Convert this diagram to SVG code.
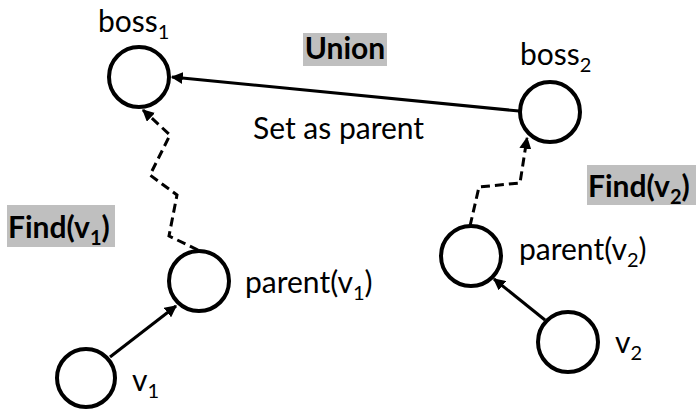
<svg xmlns="http://www.w3.org/2000/svg" width="696" height="410" viewBox="0 0 696 410">
<style>
.n{fill:#fff;stroke:#000;stroke-width:4}
.t{font-family:Lato,"Open Sans","Liberation Sans",sans-serif;font-size:30px;fill:#000}
.b{font-family:Lato,"Open Sans","Liberation Sans",sans-serif;font-size:30px;font-weight:bold;fill:#000}
.s{font-size:20px}
.e{fill:none;stroke:#000;stroke-width:3}
.d{fill:none;stroke:#000;stroke-width:3;stroke-dasharray:9 5}
.box{fill:#bfbfbf}
</style>
<defs>
<marker id="ah" viewBox="0 0 10 10" refX="9" refY="5" markerWidth="4" markerHeight="4" markerUnits="strokeWidth" orient="auto">
<path d="M0,0 L10,5 L0,10 Z" fill="#000"/>
</marker>
</defs>
<g id="connectors">
<line class="e" x1="519" y1="111" x2="172" y2="77" marker-end="url(#ah)"/>
<polyline class="d" points="198,250 169,236 177,195 150,175 170,135 143,110" marker-end="url(#ah)"/>
<polyline class="d" points="470,226 479,187 520,183 527,138" marker-end="url(#ah)"/>
<line class="e" x1="110" y1="357" x2="176" y2="306" marker-end="url(#ah)"/>
<line class="e" x1="545" y1="320" x2="494" y2="279" marker-end="url(#ah)"/>
</g>
<g id="boss1">
<circle class="n" cx="139" cy="77" r="30"/>
<text class="t" x="98" y="32">boss<tspan class="s" dy="7">1</tspan></text>
</g>
<g id="boss2">
<circle class="n" cx="550" cy="112" r="30"/>
<text class="t" x="520" y="65">boss<tspan class="s" dy="7">2</tspan></text>
</g>
<g id="parent1">
<circle class="n" cx="199" cy="281" r="30"/>
<text class="t" x="245" y="293">parent(v<tspan class="s" dy="7">1</tspan><tspan dy="-7">)</tspan></text>
</g>
<g id="parent2">
<circle class="n" cx="471" cy="256" r="30"/>
<text class="t" x="519" y="260">parent(v<tspan class="s" dy="7">2</tspan><tspan dy="-7">)</tspan></text>
</g>
<g id="v1">
<circle class="n" cx="86" cy="378" r="29"/>
<text class="t" x="132" y="391">v<tspan class="s" dy="7">1</tspan></text>
</g>
<g id="v2">
<circle class="n" cx="568" cy="342" r="30"/>
<text class="t" x="615" y="353">v<tspan class="s" dy="7">2</tspan></text>
</g>
<g id="union">
<rect class="box" x="303" y="33" width="84" height="33"/>
<text class="b" x="345" y="59" text-anchor="middle">Union</text>
</g>
<g id="setparent">
<text class="t" x="253" y="139">Set as parent</text>
</g>
<g id="find1">
<rect class="box" x="7" y="205" width="108" height="42"/>
<text class="b" x="8" y="238">Find(v<tspan class="s" dy="7">1</tspan><tspan dy="-7">)</tspan></text>
</g>
<g id="find2">
<rect class="box" x="587" y="165" width="109" height="40"/>
<text class="b" x="588" y="197">Find(v<tspan class="s" dy="7">2</tspan><tspan dy="-7">)</tspan></text>
</g>
</svg>
